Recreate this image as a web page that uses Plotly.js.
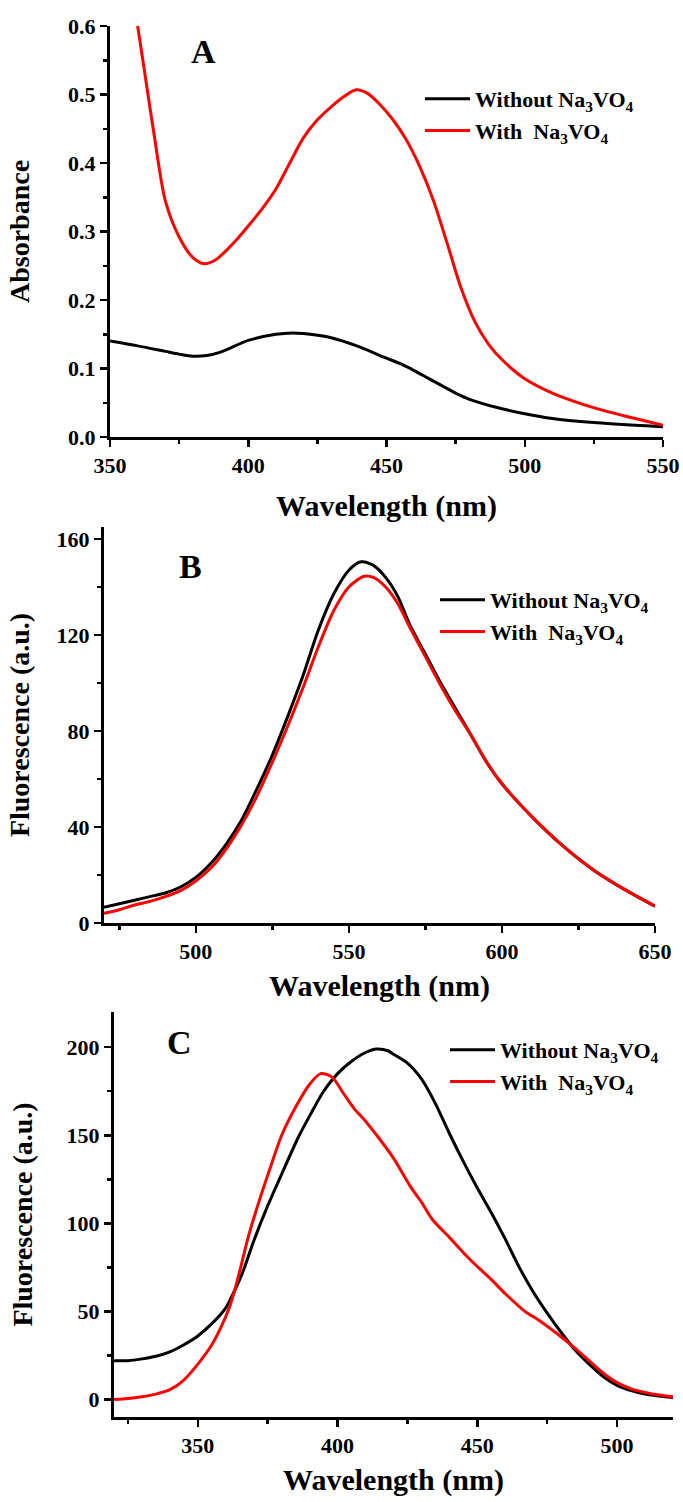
<!DOCTYPE html>
<html><head><meta charset="utf-8">
<script src="https://cdn.plot.ly/plotly-3.0.1.min.js"></script>
<style>html,body{margin:0;padding:0;background:#fff}#chart{width:683px;height:1502px}</style>
</head><body><div id="chart"></div>
<script>
// ---------- Panel A: absorbance ----------
const aWlWithout = [350,360,370,375,380,385,390,400,410,416,420,430,440,450,455,460,465,470,475,480,490,500,510,525,540,550];
const aAbsWithout = [0.140,0.133,0.125,0.121,0.118,0.119,0.124,0.141,0.150,0.152,0.151,0.145,0.132,0.115,0.107,0.097,0.086,0.075,0.064,0.055,0.043,0.034,0.027,0.021,0.017,0.015];
const aWlWith = [360,363,366,370,375,380,384,388,392,396,400,405,410,415,420,425,430,435,439,443,447,452,457,462,467,472,477,482,487,492,500,510,520,530,540,550];
const aAbsWith = [0.600,0.520,0.440,0.345,0.292,0.262,0.253,0.258,0.272,0.289,0.308,0.333,0.362,0.400,0.437,0.463,0.482,0.498,0.507,0.502,0.488,0.465,0.435,0.395,0.345,0.282,0.217,0.168,0.135,0.112,0.085,0.064,0.049,0.037,0.027,0.017];

// ---------- Panel B: fluorescence ----------
const bWl = [470,475,480,485,490,495,500,505,510,515,520,525,530,535,540,545,550,554,558,562,566,570,575,580,585,590,595,600,610,620,630,640,650];
const bWithout = [6.5,8,9.5,11,12.5,15,19,25,33,43,56,70,86,103,122,137,147,150.5,149,144,136,124,112,100,89,78,67,58,44,32,22,14,7];
const bWlWith = [470,475,480,485,490,495,500,505,510,515,520,525,530,535,540,545,550,555,558,562,566,570,575,580,585,590,595,600,610,620,630,640,650];
const bWith = [4,5.5,7.5,9,11,13.5,17.5,23,31,41,53,67,82,98,115,130,140,144.5,144,140,133,123,111,99,88,78,67,58,44,32,22,14,7];

// ---------- Panel C: fluorescence ----------
const cWlWithout = [320,325,330,335,340,345,350,355,360,362,366,370,375,380,386,390,395,400,405,410,414,418,420,425,430,435,440,445,450,455,460,465,470,475,480,485,490,495,500,505,510,520];
const cWithout = [22,22,23,24.5,27,31,36,43,52,58,72,90,110,128,149,161,175,185,192,197,199,198,196,191,182,168,151,135,120,106,91,75,61,49,38,28,20,13,8,5,3,1];
const cWlWith = [320,325,330,335,340,345,350,355,358,361,363,365,368,372,376,380,385,390,394,398,402,406,410,414,420,426,430,434,440,447,455,460,467,472,478,485,490,495,500,505,510,515,520];
const cWith = [0,0.5,1.5,3,5.5,11,20,31,40,51,61,73,92,113,132,150,166,179,185,183,174,165,158,150,137,121,112,102,92,80,68,60,50,45,38,29,22,15,9.5,6,4,2.5,1.5];

const seriesNames = ['Without Na<sub>3</sub>VO<sub>4</sub>', 'With  Na<sub>3</sub>VO<sub>4</sub>'];
const panelLetters = ['A','B','C'];
const xTitle = 'Wavelength (nm)';
const yTitles = ['Absorbance','Fluorescence (a.u.)','Fluorescence (a.u.)'];

const W = 683, H = 1502;
const fx = px => px / W;
const fy = px => 1 - px / H;
const serif = 'Liberation Serif';
const BLACK = '#000000', RED = '#ff0000';

function minorTicks(extra) {
  return Object.assign({ticks: 'outside', ticklen: 4, tickwidth: 2.5, tickcolor: BLACK, showgrid: false}, extra);
}
function baseAxis(extra) {
  return Object.assign({
    showline: true, linecolor: BLACK, linewidth: 3, mirror: false,
    ticks: 'outside', ticklen: 7, tickwidth: 2.5, tickcolor: BLACK,
    showgrid: false, zeroline: false, fixedrange: true,
    tickfont: {family: serif, size: 22, color: BLACK, weight: 'bold'}
  }, extra);
}
function xt(so) { return {text: xTitle, font: {family: serif, size: 30, color: BLACK, weight: 'bold'}, standoff: so}; }
function yt(i, so) { return {text: yTitles[i], font: {family: serif, size: 28, color: BLACK, weight: 'bold'}, standoff: so}; }

function line(x, y, color, xa, ya, name, leg) {
  return {x: x, y: y, type: 'scatter', mode: 'lines', name: name, xaxis: xa, yaxis: ya,
          legend: leg, line: {color: color, width: 3, shape: 'spline', smoothing: 0.8}, hoverinfo: 'skip'};
}

const data = [
  line(aWlWithout, aAbsWithout, BLACK, 'x', 'y', seriesNames[0], 'legend'),
  line(aWlWith, aAbsWith, RED, 'x', 'y', seriesNames[1], 'legend'),
  line(bWl, bWithout, BLACK, 'x2', 'y2', seriesNames[0], 'legend2'),
  line(bWlWith, bWith, RED, 'x2', 'y2', seriesNames[1], 'legend2'),
  line(cWlWithout, cWithout, BLACK, 'x3', 'y3', seriesNames[0], 'legend3'),
  line(cWlWith, cWith, RED, 'x3', 'y3', seriesNames[1], 'legend3')
];

function legendAt(xpx, ypx) {
  return {x: fx(xpx), y: fy(ypx), xanchor: 'left', yanchor: 'top', xref: 'paper', yref: 'paper',
          bgcolor: 'rgba(0,0,0,0)', borderwidth: 0, itemwidth: 45, tracegroupgap: 0,
          font: {family: serif, size: 22, color: BLACK, weight: 'bold'}};
}
function letter(t, xpx, ypx) {
  return {text: t, x: fx(xpx), y: fy(ypx), xref: 'paper', yref: 'paper', showarrow: false,
          xanchor: 'center', yanchor: 'middle', font: {family: serif, size: 34, color: BLACK, weight: 'bold'}};
}

const layout = {
  width: W, height: H, margin: {l: 0, r: 0, t: 0, b: 0},
  paper_bgcolor: '#fff', plot_bgcolor: '#fff', showlegend: true,
  xaxis: baseAxis({domain: [fx(110), fx(663)], anchor: 'y', range: [350, 550], dtick: 50, tick0: 350,
                   minor: minorTicks({dtick: 25}), title: xt(18)}),
  yaxis: baseAxis({domain: [fy(437), fy(26)], anchor: 'x', range: [0, 0.6], dtick: 0.1, tick0: 0, tickformat: '.1f',
                   minor: minorTicks({dtick: 0.05}), title: yt(0, 31)}),
  xaxis2: baseAxis({domain: [fx(104), fx(655)], anchor: 'y2', range: [470, 650], dtick: 50, tick0: 500,
                   minor: minorTicks({dtick: 25, tick0: 475}), title: xt(12)}),
  yaxis2: baseAxis({domain: [fy(923), fy(527)], anchor: 'x2', range: [0, 165], dtick: 40, tick0: 0,
                   minor: minorTicks({dtick: 20}), title: yt(1, 19)}),
  xaxis3: baseAxis({domain: [fx(114), fx(673)], anchor: 'y3', range: [320, 520], dtick: 50, tick0: 350,
                   minor: minorTicks({dtick: 25, tick0: 325}), title: xt(12)}),
  yaxis3: baseAxis({domain: [fy(1417), fy(1012)], anchor: 'x3', range: [-10, 220], dtick: 50, tick0: 0,
                   minor: minorTicks({dtick: 25}), title: yt(2, 26)}),
  legend: legendAt(420, 78),
  legend2: legendAt(435, 579),
  legend3: legendAt(445, 1029),
  annotations: [letter(panelLetters[0], 203, 52), letter(panelLetters[1], 190, 567), letter(panelLetters[2], 179, 1042)]
};

Plotly.newPlot('chart', data, layout, {staticPlot: true, displayModeBar: false});
</script>
</body></html>
